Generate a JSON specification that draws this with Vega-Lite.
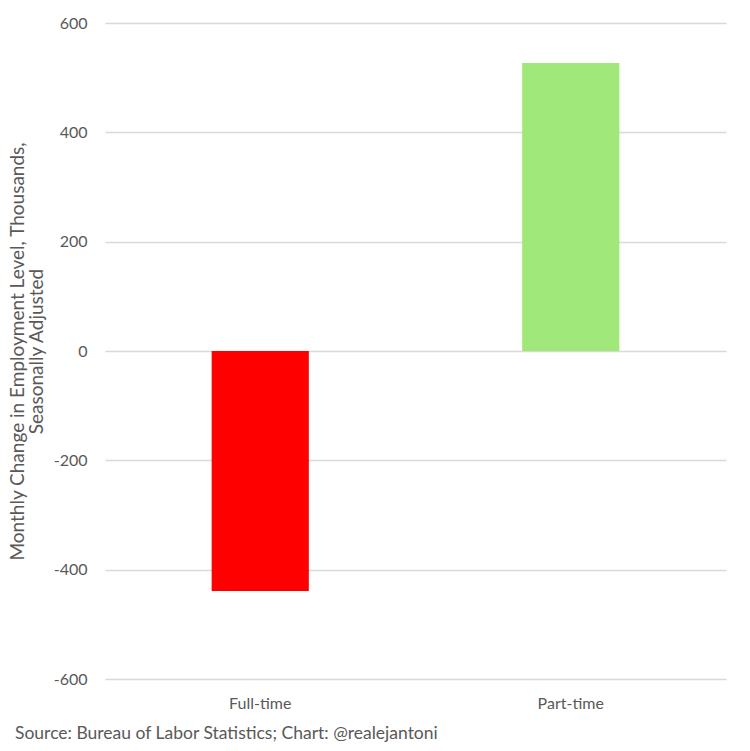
{
  "$schema": "https://vega.github.io/schema/vega-lite/v6.json",
  "description": "Monthly change in full-time and part-time employment",
  "autosize": "none",
  "padding": {"left": 105, "top": 23, "right": 24, "bottom": 72},
  "width": 621,
  "height": 656,
  "background": "white",
  "config": {
    "font": "Lato",
    "view": {"stroke": null}
  },
  "title": {
    "text": "Source: Bureau of Labor Statistics; Chart: @realejantoni",
    "orient": "bottom",
    "anchor": "start",
    "frame": "group",
    "dx": -90,
    "offset": 14,
    "fontSize": 17.5,
    "fontWeight": "normal",
    "color": "#595959",
    "font": "Lato"
  },
  "data": {
    "values": [
      {"type": "Full-time", "change": -439},
      {"type": "Part-time", "change": 527}
    ]
  },
  "mark": {"type": "bar"},
  "encoding": {
    "x": {
      "field": "type",
      "type": "nominal",
      "title": null,
      "scale": {"paddingInner": 0.687, "paddingOuter": 0.3435},
      "axis": {
        "labelAngle": 0,
        "labelFontSize": 16,
        "labelColor": "#595959",
        "labelPadding": 16,
        "domain": false,
        "ticks": false,
        "grid": false
      }
    },
    "y": {
      "field": "change",
      "type": "quantitative",
      "title": ["Monthly Change in Employment Level, Thousands,", "Seasonally Adjusted"],
      "scale": {"domain": [-600, 600], "nice": false},
      "axis": {
        "values": [-600, -400, -200, 0, 200, 400, 600],
        "labelExpr": "toString(datum.value)",
        "labelFontSize": 16,
        "labelColor": "#595959",
        "labelPadding": 18,
        "domain": false,
        "ticks": false,
        "gridColor": "#d9d9d9",
        "gridWidth": 1.5,
        "titleFontSize": 19,
        "titleFontWeight": "normal",
        "titleColor": "#595959",
        "titleAngle": -90,
        "titleAlign": "center",
        "titleBaseline": "alphabetic",
        "titleLineHeight": 19,
        "titleX": -82,
        "titleY": 328
      }
    },
    "color": {
      "field": "type",
      "type": "nominal",
      "scale": {"domain": ["Full-time", "Part-time"], "range": ["#FF0000", "#A0E87A"]},
      "legend": null
    }
  }
}
